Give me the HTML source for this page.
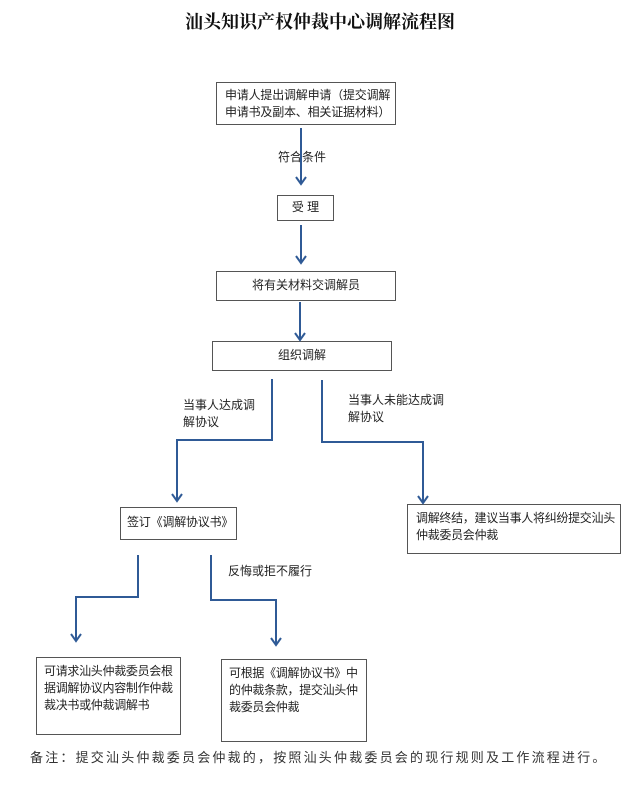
<!DOCTYPE html>
<html><head><meta charset="utf-8"><style>
body{margin:0;width:640px;height:787px;background:#fff;position:relative;overflow:hidden;font-family:"Liberation Sans","Noto Sans CJK SC",sans-serif;color:#222;}
.b{position:absolute;border:1.5px solid #555;box-sizing:border-box;font-size:12px;line-height:17px;white-space:nowrap;}
.t{position:absolute;font-size:12px;line-height:17px;white-space:nowrap;}
</style></head><body>
<div class="t" style="left:0;width:640px;top:10px;text-align:center;font-family:'Liberation Serif','Noto Serif CJK SC',serif;font-weight:bold;font-size:18px;line-height:24px;color:#111;">汕头知识产权仲裁中心调解流程图</div>

<div class="b" style="left:216px;top:82px;width:180px;height:43px;padding:4px 0 0 8px;letter-spacing:-0.2px;">申请人提出调解申请（提交调解<br>申请书及副本、相关证据材料）</div>
<div class="b" style="left:277px;top:195px;width:57px;height:26px;text-align:center;padding-top:3px;">受 理</div>
<div class="b" style="left:216px;top:271px;width:180px;height:30px;text-align:center;padding-top:5px;">将有关材料交调解员</div>
<div class="b" style="left:212px;top:341px;width:180px;height:30px;text-align:center;padding-top:5px;">组织调解</div>
<div class="b" style="left:120px;top:507px;width:117px;height:33px;padding:6px 0 0 6px;letter-spacing:-0.2px;">签订《调解协议书》</div>
<div class="b" style="left:407px;top:504px;width:214px;height:50px;padding:5px 0 0 8px;letter-spacing:-0.3px;">调解终结，建议当事人将纠纷提交汕头<br>仲裁委员会仲裁</div>
<div class="b" style="left:36px;top:657px;width:145px;height:78px;padding:5px 0 0 7px;letter-spacing:-0.3px;">可请求汕头仲裁委员会根<br>据调解协议内容制作仲裁<br>裁决书或仲裁调解书</div>
<div class="b" style="left:221px;top:659px;width:146px;height:83px;padding:5px 0 0 7px;letter-spacing:-0.3px;">可根据《调解协议书》中<br>的仲裁条款，提交汕头仲<br>裁委员会仲裁</div>

<div class="t" style="left:278px;top:149px;">符合条件</div>
<div class="t" style="left:183px;top:397px;">当事人达成调<br>解协议</div>
<div class="t" style="left:348px;top:392px;">当事人未能达成调<br>解协议</div>
<div class="t" style="left:228px;top:563px;">反悔或拒不履行</div>
<div class="t" style="left:30px;top:749px;font-size:13px;letter-spacing:2.2px;color:#333;">备注：提交汕头仲裁委员会仲裁的，按照汕头仲裁委员会的现行规则及工作流程进行。</div>

<svg width="640" height="787" style="position:absolute;left:0;top:0" fill="none" stroke="#2f5a96" stroke-width="2">
<path d="M301 128V183"/><path d="M296 177l5 7 5-7"/>
<path d="M301 225V262"/><path d="M296 256l5 7 5-7"/>
<path d="M300 302V339"/><path d="M295 333l5 7 5-7"/>
<path d="M272 379V440H177V500"/><path d="M172 494l5 7 5-7"/>
<path d="M322 380V442H423V502"/><path d="M418 496l5 7 5-7"/>
<path d="M138 555V597H76V640"/><path d="M71 634l5 7 5-7"/>
<path d="M211 555V600H276V644"/><path d="M271 638l5 7 5-7"/>
</svg>
</body></html>
